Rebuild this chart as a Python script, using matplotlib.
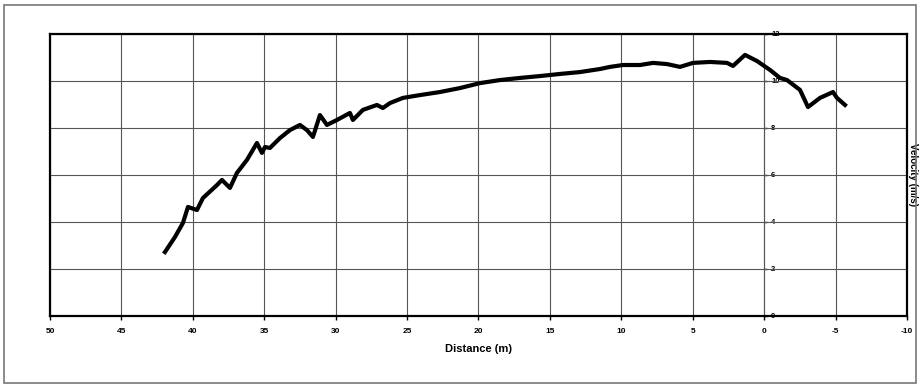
import matplotlib
matplotlib.use("Agg")
import matplotlib.pyplot as plt
from matplotlib.patches import Rectangle

plt.rcParams['font.family'] = ['Liberation Sans', 'DejaVu Sans']
plt.rcParams['axes.unicode_minus'] = False

distance = [41.95, 41.25, 40.69, 40.34, 39.71, 39.29, 38.31, 37.96, 37.40, 36.91,
            36.21, 35.51, 35.16, 34.95, 34.60, 33.90, 33.20, 32.50, 32.01, 31.59,
            31.10, 30.61, 29.91, 29.00, 28.79, 28.09, 27.11, 26.69, 26.20, 25.29,
            24.10, 22.70, 21.29, 19.89, 18.49, 17.09, 15.69, 14.29, 12.89, 11.49,
            10.79, 9.88, 8.69, 7.78, 6.80, 5.89, 4.98, 3.79, 2.60, 2.18,
            1.34, 0.50, -0.41, -1.11, -1.60, -2.51, -3.07, -3.91, -4.82, -5.10,
            -5.66]
velocity = [2.72, 3.36, 3.96, 4.64, 4.51, 5.02, 5.57, 5.79, 5.45, 6.09,
            6.64, 7.36, 6.94, 7.19, 7.15, 7.57, 7.91, 8.13, 7.91, 7.62,
            8.55, 8.13, 8.34, 8.64, 8.34, 8.77, 8.98, 8.85, 9.06, 9.28,
            9.40, 9.53, 9.70, 9.91, 10.04, 10.13, 10.21, 10.30, 10.38, 10.51,
            10.60, 10.68, 10.68, 10.77, 10.72, 10.60, 10.77, 10.81, 10.77, 10.64,
            11.11, 10.85, 10.47, 10.13, 10.04, 9.62, 8.89, 9.28, 9.53, 9.28,
            8.98]

x_ticks = [50, 45, 40, 35, 30, 25, 20, 15, 10, 5, 0, -5, -10]
y_ticks = [0, 2, 4, 6, 8, 10, 12]

fig = plt.figure(figsize=(9.22, 3.88), dpi=100)
fig.patches.append(Rectangle((0.004, 0.012), 0.99, 0.976, transform=fig.transFigure,
                             fill=False, edgecolor='#777777', linewidth=1.2))

ax = fig.add_axes([0.0542, 0.1856, 0.9295, 0.7268])
ax.plot(distance, velocity, color='black', linewidth=3, solid_joinstyle='round')

ax.set_xlim(50, -10)
ax.set_ylim(0, 12)
ax.set_xticks(x_ticks)
ax.set_xticklabels([str(t) for t in x_ticks], fontsize=6, fontweight='bold')
ax.set_yticks(y_ticks)
ax.tick_params(axis='x', length=3, width=1, pad=6)
ax.tick_params(axis='y', left=False, labelleft=False)
ax.grid(True, color='#555555', linewidth=0.8)
for s in ax.spines.values():
    s.set_linewidth(1.6)

ax.set_xlabel('Distance (m)', fontsize=8, fontweight='bold', labelpad=6)
ax.yaxis.set_label_position('right')
ax.set_ylabel('Velocity (m/s)', fontsize=7, fontweight='bold', rotation=270, labelpad=8)

# velocity scale drawn on the zero-distance line
zero_pos = (0 - 50) / (-10 - 50)
sec = ax.secondary_yaxis(zero_pos)
sec.set_yticks(y_ticks)
sec.set_yticklabels([str(t) for t in y_ticks], fontsize=5.5, fontweight='bold')
sec.tick_params(axis='y', length=2, width=1, pad=3)
sec.spines['right'].set_linewidth(0.8)
sec.spines['right'].set_color('#555555')

fig.savefig('out.png', dpi=100)
